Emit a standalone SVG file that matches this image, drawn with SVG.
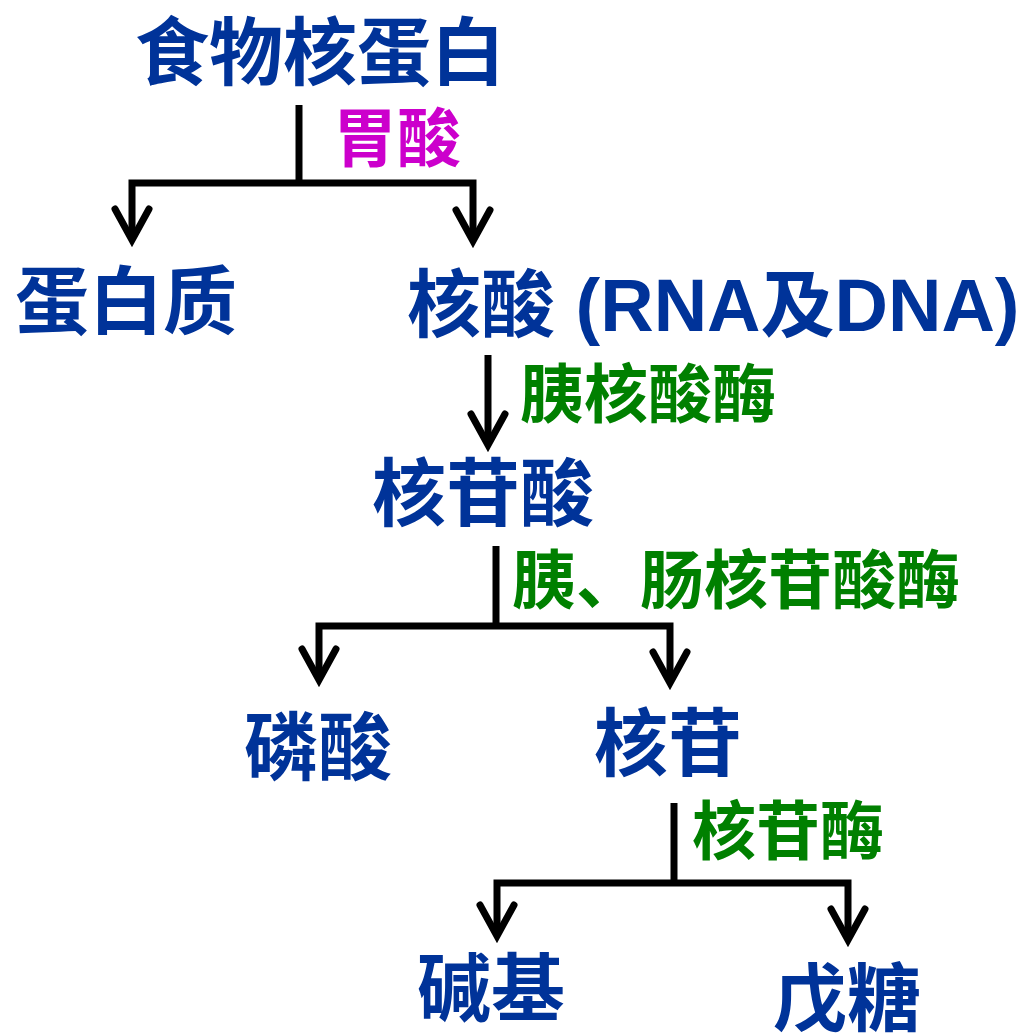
<svg xmlns="http://www.w3.org/2000/svg" width="1029" height="1033" viewBox="0 0 1029 1033">
<style>
text{font-family:"Liberation Sans","Noto Sans CJK SC",sans-serif;font-weight:bold}
.n{fill:#003399;font-size:74px}
.g{fill:#008000;font-size:64px}
.m{fill:#CC00CC;font-size:64px}
.c{fill:none;stroke:#000;stroke-width:7;stroke-linejoin:miter}
</style>
<defs>
<marker id="ah" markerUnits="userSpaceOnUse" orient="auto" markerWidth="60" markerHeight="60" refX="0" refY="0" viewBox="-40 -30 60 60" overflow="visible">
<path d="M-31,-17 L0,0 L-31,17" fill="none" stroke="#000" stroke-width="7" stroke-linecap="round" stroke-linejoin="miter"/>
</marker>
</defs>
<rect width="1029" height="1033" fill="#fff"/>
<g id="connectors">
<path class="c" d="M299,105 V183"/>
<path class="c" d="M299,183 H132 V240" marker-end="url(#ah)"/>
<path class="c" d="M299,183 H473 V241" marker-end="url(#ah)"/>
<path class="c" d="M488,355 V445" marker-end="url(#ah)"/>
<path class="c" d="M496,546 V626"/>
<path class="c" d="M496,626 H319 V680" marker-end="url(#ah)"/>
<path class="c" d="M496,626 H670 V683" marker-end="url(#ah)"/>
<path class="c" d="M674,803 V883"/>
<path class="c" d="M674,883 H497 V936" marker-end="url(#ah)"/>
<path class="c" d="M674,883 H848 V940" marker-end="url(#ah)"/>
</g>
<g id="n-food"><text class="n" x="135" y="79">食物核蛋白</text></g>
<g id="l-acid"><text class="m" x="333" y="161">胃酸</text></g>
<g id="n-protein"><text class="n" x="15" y="328">蛋白质</text></g>
<g id="n-nucleic"><text class="n" x="407" y="331">核酸 (RNA及DNA)</text></g>
<g id="l-nuclease"><text class="g" x="520" y="417">胰核酸酶</text></g>
<g id="n-nucleotide"><text class="n" x="372" y="520">核苷酸</text></g>
<g id="l-nucleotidase"><text class="g" x="512" y="603">胰、肠核苷酸酶</text></g>
<g id="n-phosphate"><text class="n" x="244" y="774">磷酸</text></g>
<g id="n-nucleoside"><text class="n" x="594" y="770">核苷</text></g>
<g id="l-nucleosidase"><text class="g" x="692" y="854">核苷酶</text></g>
<g id="n-base"><text class="n" x="417" y="1015">碱基</text></g>
<g id="n-pentose"><text class="n" x="773" y="1025">戊糖</text></g>
</svg>
